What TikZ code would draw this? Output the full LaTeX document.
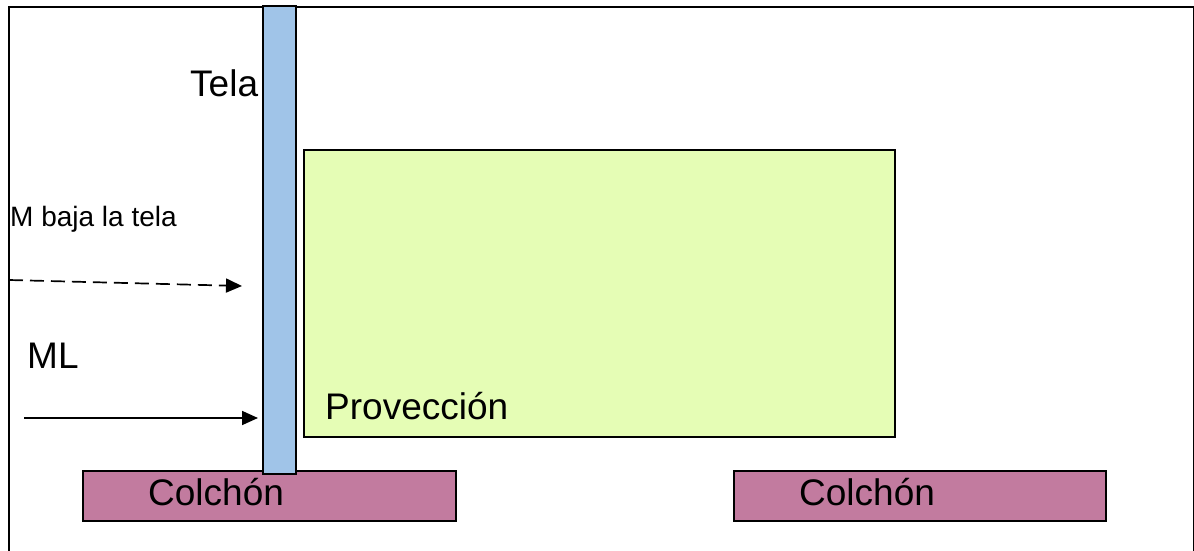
\documentclass[tikz,border=0pt]{standalone}
\usepackage{fontspec}
\setmainfont{Liberation Sans}
\usetikzlibrary{arrows.meta}
\definecolor{telablue}{HTML}{A0C4E8}
\definecolor{provgreen}{HTML}{E5FDB5}
\definecolor{colchonpink}{HTML}{C27B9F}
\begin{document}
\begin{tikzpicture}[x=1pt,y=-1pt,
  box/.style={draw=black,line width=1.4pt,anchor=north west,inner sep=0pt,outer sep=0pt},
  bigtxt/.style={anchor=base west,inner sep=0pt,font=\fontsize{37}{40}\selectfont},
  smalltxt/.style={anchor=base west,inner sep=0pt,font=\fontsize{28}{32}\selectfont},
  arr/.style={line width=1.7pt,-{Triangle[length=16pt,width=14pt]}}]
\useasboundingbox (0,0) rectangle (1194,551);
\fill[white] (0,0) rectangle (1194,551);
% frame
\node[draw=black,line width=2pt,anchor=north west,inner sep=0pt,minimum width=1185pt,minimum height=560pt] (frame) at (8,6) {};
% projection area
\node[box,fill=provgreen,minimum width=591pt,minimum height=287pt] (prov) at (304,150) {};
% mattresses
\node[box,fill=colchonpink,minimum width=373pt,minimum height=50pt] (colA) at (83,471) {};
\node[box,fill=colchonpink,minimum width=372pt,minimum height=50pt] (colB) at (734,471) {};
% tela bar
\node[box,fill=telablue,minimum width=33pt,minimum height=468pt] (tela) at (263,6) {};
% texts
\node[bigtxt] (telaT) at (190,96) {Tela};
\node[smalltxt] (mbaja) at (10,226) {M baja la tela};
\node[bigtxt] (ml) at (27,368) {ML};
\node[bigtxt] (provT) at (325,419) {Provección};
\node[bigtxt] (colAT) at (148,505) {Colchón};
\node[bigtxt] (colBT) at (799,505) {Colchón};
% arrows
\coordinate (d0) at (9,280);
\coordinate (d1) at (242,286);
\coordinate (s0) at (24,418);
\coordinate (s1) at (258,418);
\draw[arr,dash pattern=on 14pt off 7pt] (d0) -- (d1);
\draw[arr] (s0) -- (s1);
\end{tikzpicture}
\end{document}
